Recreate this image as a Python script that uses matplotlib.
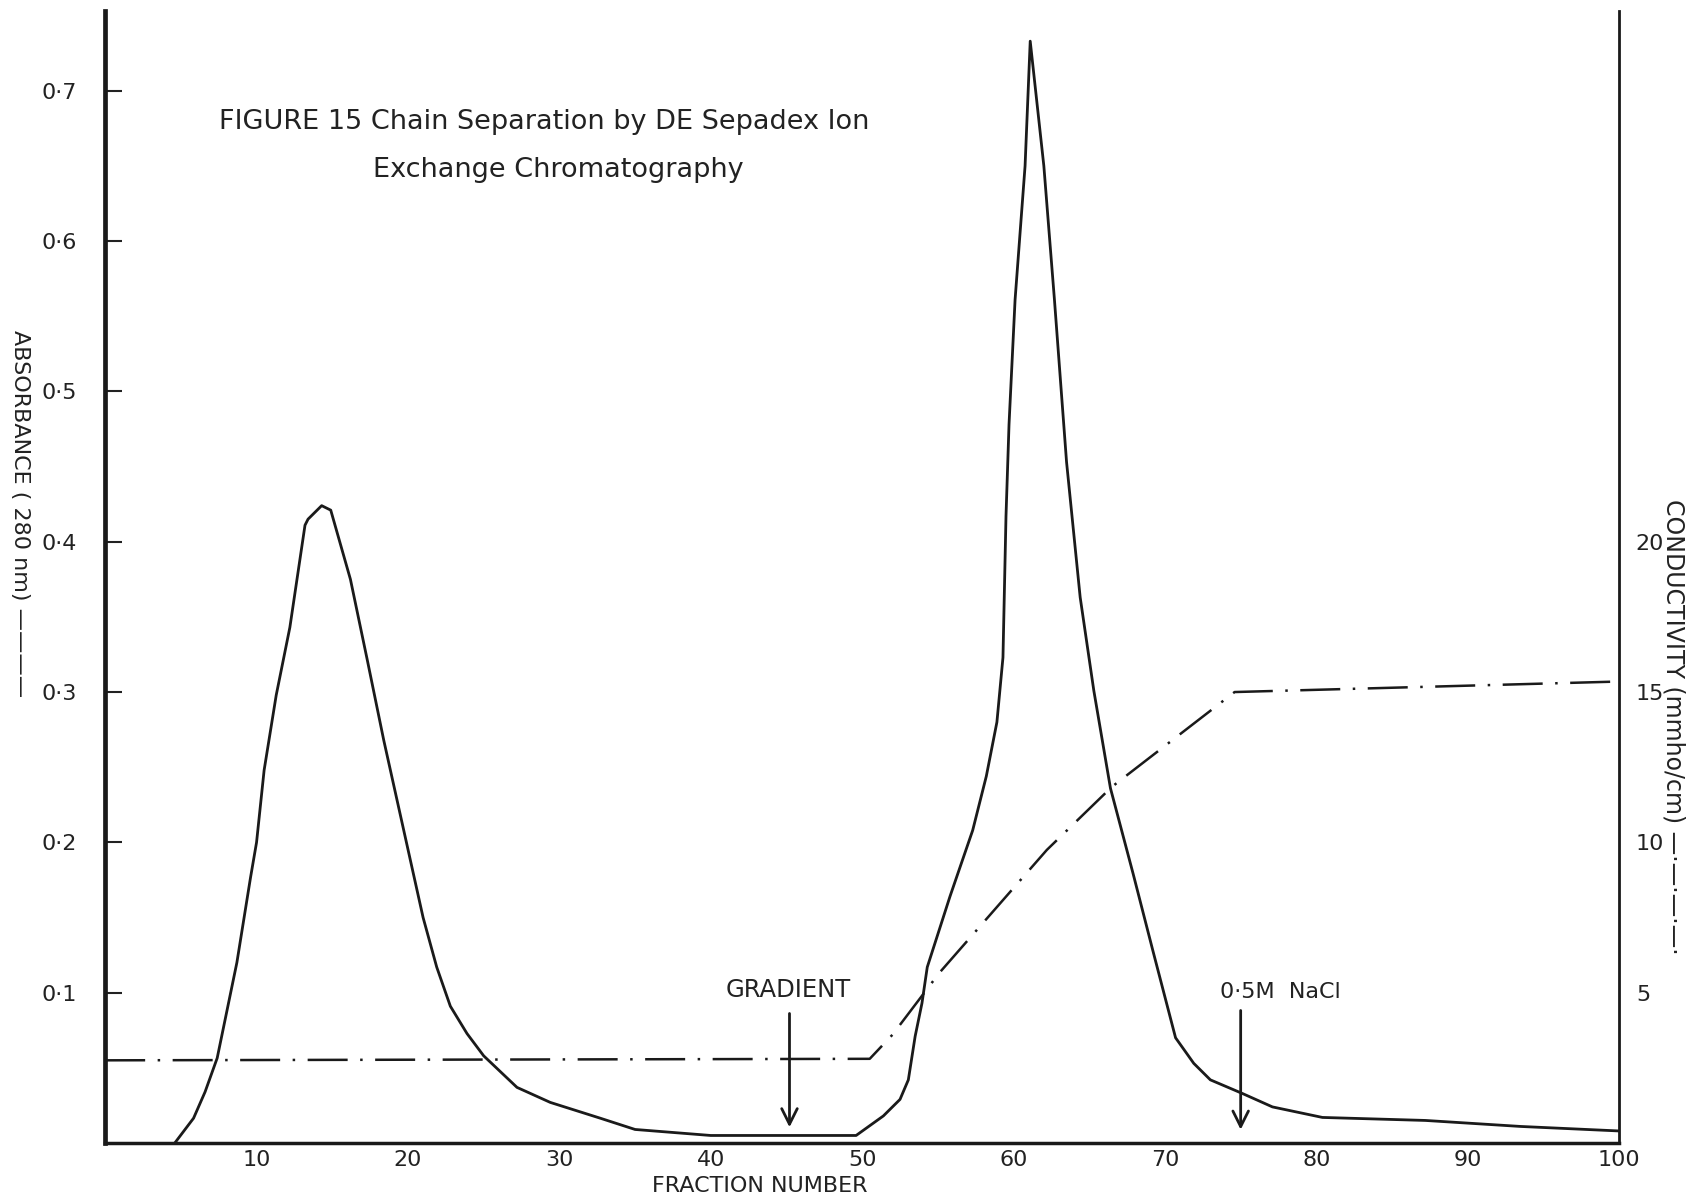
import matplotlib
matplotlib.use("Agg")
import matplotlib.pyplot as plt

# Absorbance at 280 nm (solid curve)
frac_abs = [4.6, 5.84, 6.6, 7.4, 8.7, 9.6, 10.0, 10.5, 11.3, 12.2, 13.2, 13.4,
            14.3, 14.9, 16.2, 17.3, 18.4, 19.7, 21.0, 21.9, 22.8, 23.9, 25.0,
            27.2, 29.4, 32.7, 35.0, 40.0, 45.0, 49.6, 51.4, 52.5, 53.05, 53.5,
            53.95, 54.3, 55.8, 57.3, 58.2, 58.9, 59.3, 59.5, 59.7, 60.1, 60.76,
            61.1, 62.0, 62.7, 63.5, 64.4, 65.3, 66.4, 67.9, 69.2, 70.7, 71.9,
            73.0, 75.1, 77.1, 80.4, 87.2, 93.5, 100.0]
absorbance = [0.0, 0.0165, 0.034, 0.0565, 0.120, 0.1765, 0.200, 0.248, 0.298,
              0.343, 0.411, 0.415, 0.424, 0.421, 0.375, 0.322, 0.268, 0.209,
              0.150, 0.117, 0.091, 0.0728, 0.058, 0.037, 0.027, 0.0165, 0.009,
              0.005, 0.005, 0.005, 0.018, 0.029, 0.042, 0.071, 0.093, 0.117,
              0.164, 0.208, 0.244, 0.280, 0.323, 0.417, 0.478, 0.561, 0.650,
              0.733, 0.650, 0.561, 0.453, 0.363, 0.301, 0.236, 0.179, 0.128,
              0.070, 0.053, 0.042, 0.033, 0.024, 0.017, 0.015, 0.011, 0.008]

# Conductivity (dash-dot line), mmho/cm
frac_cond = [0.0, 50.5, 52.0, 55.1, 62.2, 66.5, 74.6, 100.0]
conductivity = [2.75, 2.8, 3.6, 5.66, 9.75, 11.85, 15.0, 15.35]

abs_ticks = [0.1, 0.2, 0.3, 0.4, 0.5, 0.6, 0.7]
abs_labels = ["0·1", "0·2", "0·3", "0·4", "0·5", "0·6", "0·7"]
cond_ticks = [5, 10, 15, 20]
frac_ticks = [10, 20, 30, 40, 50, 60, 70, 80, 90, 100]

ABS_TOP = 0.7532
COND_PER_ABS = 50.0
INK = "#1a1a1a"
TXT = "#222222"

fig = plt.figure(figsize=(16.96, 12.01), dpi=100)
ax = fig.add_axes([0.062, 0.0483, 0.8927, 0.9427])

ax.plot(frac_abs, absorbance, color=INK, lw=2.0, solid_joinstyle="round")
ax.set_xlim(0, 100)
ax.set_ylim(0, ABS_TOP)

ax.set_yticks(abs_ticks)
ax.set_yticklabels(abs_labels)
ax.set_xticks(frac_ticks)
ax.tick_params(axis="y", direction="in", length=12, width=1.5, pad=20,
               labelsize=16, colors=TXT)
ax.tick_params(axis="x", length=0, pad=5, labelsize=16, colors=TXT)

ax.spines["top"].set_visible(False)
ax.spines["right"].set_visible(False)
ax.spines["left"].set_linewidth(3.4)
ax.spines["bottom"].set_linewidth(2.5)
ax.spines["left"].set_color(INK)
ax.spines["bottom"].set_color(INK)

ax2 = ax.twinx()
ax2.plot(frac_cond, conductivity, color=INK, lw=1.8, dashes=(16, 5, 1, 5))
ax2.set_ylim(0, ABS_TOP * COND_PER_ABS)
ax2.set_yticks(cond_ticks)
ax2.tick_params(axis="y", length=0, pad=12, labelsize=16, colors=TXT)
for side in ["top", "left", "bottom"]:
    ax2.spines[side].set_visible(False)
ax2.spines["right"].set_linewidth(2.0)
ax2.spines["right"].set_color(INK)

# title block inside the plot
ax.text(29.0, 0.679, "FIGURE 15 Chain Separation by DE Sepadex Ion",
        ha="center", va="center", fontsize=19.5, color=TXT)
ax.text(17.7, 0.647, "Exchange Chromatography",
        ha="left", va="center", fontsize=19.5, color=TXT)

# arrows
ax.annotate("", xy=(45.2, 0.0086), xytext=(45.2, 0.088),
            arrowprops=dict(arrowstyle="->", lw=2.0, color=INK,
                            mutation_scale=28))
ax.text(45.1, 0.102, "GRADIENT", ha="center", va="center", fontsize=17.5,
        color=TXT)
ax.annotate("", xy=(75.0, 0.007), xytext=(75.0, 0.09),
            arrowprops=dict(arrowstyle="->", lw=2.0, color=INK,
                            mutation_scale=28))
ax.text(77.6, 0.1007, "0·5M  NaCl", ha="center", va="center", fontsize=16,
        color=TXT)

# axis labels
fig.text(0.012, 0.572, "ABSORBANCE ( 280 nm) ————", rotation=-90,
         ha="center", va="center", fontsize=16, color=TXT)
fig.text(0.987, 0.395, "CONDUCTIVITY (mmho/cm) —·—·—·—·", rotation=-90,
         ha="center", va="center", fontsize=17, color=TXT)
fig.text(0.448, 0.0125, "FRACTION NUMBER", ha="center", va="center",
         fontsize=16, color=TXT)

fig.savefig("out.png", dpi=100)
